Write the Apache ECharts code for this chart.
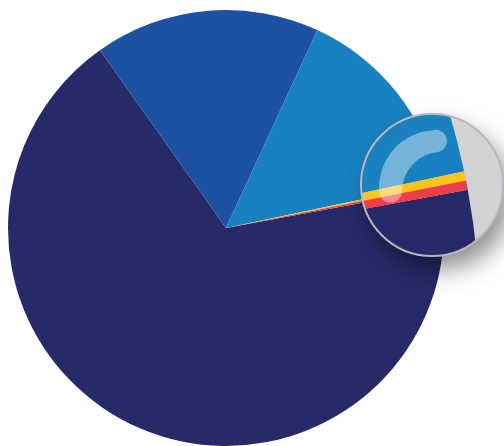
<!DOCTYPE html>
<html>
<head>
<meta charset="utf-8">
<script src="https://cdn.jsdelivr.net/npm/echarts@6/dist/echarts.min.js"></script>
<style>
  html, body { margin: 0; padding: 0; background: #ffffff; }
  #chart { width: 504px; height: 446px; }
</style>
</head>
<body>
<div id="chart"></div>
<script>
// Slice data (clockwise from the start angle)
const categories = ['Segment A', 'Segment B', 'Segment C', 'Segment D', 'Segment E'];
const values = [68.1, 16.7, 14.8, 0.2, 0.2];
const colors = ['#262a68', '#1d52a2', '#1981bf', '#fdc41c', '#ee3d49'];

// Layout
const PIE_CENTER = [226, 228];
const PIE_RADIUS = 218;
const START_ANGLE = 10.5; // degrees, counter-clockwise from 3 o'clock

// Magnifier lens: a zoomed copy of the pie seen through a round glass
const LENS = { cx: 432, cy: 185, r: 71 };
const ZOOM = 3.4;
const LENS_TARGET = [466, 180.5]; // where the rim point between the two thin slices lands in the lens

const D = Math.PI / 180;
const total = values.reduce((a, b) => a + b, 0);

// Screen angles (radians, clockwise from +x) of each slice
function sliceAngles() {
  const out = [];
  let a = -START_ANGLE * D;
  values.forEach(v => {
    const span = v / total * 2 * Math.PI;
    out.push([a, a + span]);
    a += span;
  });
  return out;
}

// Tapered glass highlight: outer and inner arcs with rounded ends
function glintPath() {
  const o = { cx: 437, cy: 188, r: 58 };
  const n = { cx: 441, cy: 191, r: 39 };
  const a0 = 178 * D, a1 = 266 * D;
  const p = (c, a) => [c.cx + c.r * Math.cos(a), c.cy + c.r * Math.sin(a)];
  const os = p(o, a0), oe = p(o, a1), ns = p(n, a0), ne = p(n, a1);
  const capEnd = Math.hypot(oe[0] - ne[0], oe[1] - ne[1]) / 2;
  const capStart = Math.hypot(os[0] - ns[0], os[1] - ns[1]) / 2;
  return 'M' + os[0] + ' ' + os[1] +
    ' A' + o.r + ' ' + o.r + ' 0 0 1 ' + oe[0] + ' ' + oe[1] +
    ' A' + capEnd + ' ' + capEnd + ' 0 0 1 ' + ne[0] + ' ' + ne[1] +
    ' A' + n.r + ' ' + n.r + ' 0 0 0 ' + ns[0] + ' ' + ns[1] +
    ' A' + capStart + ' ' + capStart + ' 0 0 1 ' + os[0] + ' ' + os[1] + ' Z';
}

function renderLens(params, api) {
  const ang = sliceAngles();
  const phi = ang[3][1];
  const R = PIE_RADIUS * ZOOM;
  const zc = [LENS_TARGET[0] - R * Math.cos(phi), LENS_TARGET[1] - R * Math.sin(phi)];
  const sectors = ang.map((a, i) => ({
    type: 'sector',
    shape: { cx: zc[0], cy: zc[1], r0: 0, r: R, startAngle: a[0], endAngle: a[1], clockwise: true },
    style: { fill: colors[i] }
  }));
  return {
    type: 'group',
    children: [
      {
        type: 'circle',
        shape: { cx: LENS.cx, cy: LENS.cy, r: LENS.r },
        style: {
          fill: '#d1d2d4',
          shadowBlur: 24, shadowOffsetX: 8, shadowOffsetY: 13,
          shadowColor: 'rgba(0,0,0,0.45)'
        }
      },
      {
        type: 'group',
        clipPath: { type: 'circle', shape: { cx: LENS.cx, cy: LENS.cy, r: LENS.r } },
        children: sectors
      },
      {
        type: 'circle',
        shape: { cx: LENS.cx, cy: LENS.cy, r: LENS.r },
        style: { fill: 'none', stroke: '#b7b8bb', lineWidth: 2 }
      },
      {
        type: 'path',
        shape: { pathData: glintPath() },
        style: { fill: 'rgba(255,255,255,0.4)' }
      }
    ]
  };
}

const chart = echarts.init(document.getElementById('chart'), null, { renderer: 'canvas' });
chart.setOption({
  animation: false,
  backgroundColor: '#ffffff',
  series: [
    {
      type: 'pie',
      center: PIE_CENTER,
      radius: PIE_RADIUS,
      startAngle: START_ANGLE,
      clockwise: true,
      silent: true,
      label: { show: false },
      labelLine: { show: false },
      emphasis: { disabled: true },
      itemStyle: { borderWidth: 0 },
      data: categories.map((name, i) => ({
        name: name,
        value: values[i],
        itemStyle: { color: colors[i] }
      }))
    },
    {
      type: 'custom',
      coordinateSystem: 'none',
      silent: true,
      z: 5,
      data: [0],
      renderItem: renderLens
    }
  ]
});
</script>
</body>
</html>
